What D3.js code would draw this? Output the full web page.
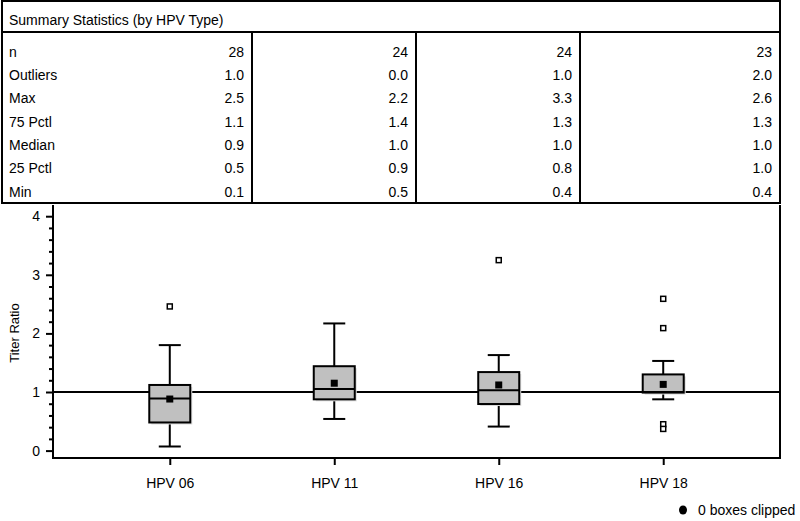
<!DOCTYPE html>
<html><head><meta charset="utf-8">
<script src="https://cdn.jsdelivr.net/npm/d3@7/dist/d3.min.js"></script>
<style>
body{margin:0;background:#fff;}
svg{display:block;font-family:"Liberation Sans",Arial,Helvetica,sans-serif;}
</style></head>
<body>
<svg id="chart" width="800" height="521"></svg>
<script>
// ---- Data ----
const categories = ["HPV 06", "HPV 11", "HPV 16", "HPV 18"];
const statLabels = ["n", "Outliers", "Max", "75 Pctl", "Median", "25 Pctl", "Min"];
const statN        = [28, 24, 24, 23];
const statOutliers = [1.0, 0.0, 1.0, 2.0];
const statMax      = [2.5, 2.2, 3.3, 2.6];
const statP75      = [1.1, 1.4, 1.3, 1.3];
const statMedian   = [0.9, 1.0, 1.0, 1.0];
const statP25      = [0.5, 0.9, 0.8, 1.0];
const statMin      = [0.1, 0.5, 0.4, 0.4];

// box plot geometry values
const boxQ1     = [0.48, 0.875, 0.795, 0.99];
const boxMedian = [0.89, 1.05, 1.03, 1.0];
const boxQ3     = [1.12, 1.44, 1.34, 1.30];
const whiskLow  = [0.07, 0.54, 0.41, 0.875];
const whiskHigh = [1.80, 2.17, 1.63, 1.53];
const boxMean   = [0.88, 1.15, 1.12, 1.13];
const outlierVals = [[2.46], [], [3.25], [2.59, 2.09, 0.45, 0.37]];
const refValue = 1;
const yMajorTicks = [0, 1, 2, 3, 4];
const yMinorTicks = d3.range(0, 4.001, 0.2).filter(v => Math.abs(v - Math.round(v)) > 1e-6);
const yLabel = "Titer Ratio";
const tableTitle = "Summary Statistics (by HPV Type)";
const legendText = "0 boxes clipped";

// ---- Layout ----
const svg = d3.select("#chart");
const tbl = {left: 2, right: 780, top: 1, headerBottom: 32, bottom: 203, cols: [2, 252, 416, 580, 780]};
const plot = {left: 53, right: 780, top: 205, bottom: 458};

// ---- Table ----
const statRows = [statN, statOutliers, statMax, statP75, statMedian, statP25, statMin];
const tg = svg.append("g").attr("font-size", 14).attr("fill", "#000");
tg.append("rect").attr("x", tbl.left).attr("y", tbl.top)
  .attr("width", tbl.right - tbl.left).attr("height", tbl.bottom - tbl.top)
  .attr("fill", "none").attr("stroke", "#000").attr("stroke-width", 2);
tg.append("line").attr("x1", tbl.left).attr("x2", tbl.right)
  .attr("y1", tbl.headerBottom).attr("y2", tbl.headerBottom)
  .attr("stroke", "#000").attr("stroke-width", 2);
tbl.cols.slice(1, 4).forEach(x => {
  tg.append("line").attr("x1", x).attr("x2", x)
    .attr("y1", tbl.headerBottom).attr("y2", tbl.bottom)
    .attr("stroke", "#000").attr("stroke-width", 2);
});
tg.append("text").attr("x", 9).attr("y", 25).text(tableTitle);
const rowY = d3.scaleLinear().domain([0, 6]).range([56.5, 196.5]);
statLabels.forEach((lab, i) => {
  tg.append("text").attr("x", 9).attr("y", rowY(i)).text(lab);
  statRows[i].forEach((v, j) => {
    tg.append("text").attr("x", tbl.cols[j + 1] - 8).attr("y", rowY(i))
      .attr("text-anchor", "end")
      .text(i === 0 ? String(v) : v.toFixed(1));
  });
});

// ---- Scales ----
const y = d3.scaleLinear().domain([0, 4]).range([450.6, 216.2]);
const x = d3.scalePoint().domain(categories).range([plot.left, plot.right]).padding(0.71);

// ---- Axes ----
const yAxisMinor = d3.axisLeft(y).tickValues(yMinorTicks).tickSize(4).tickFormat("");
const gyMin = svg.append("g").attr("transform", `translate(${plot.left},0)`).call(yAxisMinor);
gyMin.select(".domain").remove();
gyMin.selectAll("line").attr("stroke-width", 2);
const yAxis = d3.axisLeft(y).tickValues(yMajorTicks).tickSize(7).tickPadding(6).tickFormat(d3.format("d"));
const gy = svg.append("g").attr("transform", `translate(${plot.left},0)`).call(yAxis);
gy.select(".domain").remove();
gy.selectAll("line").attr("stroke-width", 2);
gy.selectAll("text").attr("font-size", 14).attr("font-family", "Liberation Sans, Arial, sans-serif").attr("fill", "#000");

const xAxis = d3.axisBottom(x).tickSize(7).tickPadding(13);
const gx = svg.append("g").attr("transform", `translate(0,${plot.bottom})`).call(xAxis);
gx.select(".domain").remove();
gx.selectAll("line").attr("stroke-width", 2);
gx.selectAll("text").attr("font-size", 14).attr("font-family", "Liberation Sans, Arial, sans-serif").attr("fill", "#000");

// frame: left axis, bottom axis, right border
svg.append("path")
  .attr("d", `M${plot.left},${plot.top}V${plot.bottom}H${plot.right}V${plot.top}`)
  .attr("fill", "none").attr("stroke", "#000").attr("stroke-width", 2);

// y label
svg.append("text").attr("transform", `translate(19,333) rotate(-90)`)
  .attr("text-anchor", "middle").attr("font-size", 13).text(yLabel);

// reference line
svg.append("line").attr("x1", plot.left).attr("x2", plot.right)
  .attr("y1", y(refValue)).attr("y2", y(refValue))
  .attr("stroke", "#000").attr("stroke-width", 2);

// ---- Boxes ----
const boxW = 41, capW = 22;
const bg = svg.append("g");
categories.forEach((c, i) => {
  const cx = x(c);
  const g = bg.append("g");
  // whiskers
  g.append("line").attr("x1", cx).attr("x2", cx).attr("y1", y(whiskHigh[i])).attr("y2", y(boxQ3[i]))
    .attr("stroke", "#000").attr("stroke-width", 2);
  g.append("line").attr("x1", cx).attr("x2", cx).attr("y1", y(whiskLow[i])).attr("y2", y(boxQ1[i]))
    .attr("stroke", "#000").attr("stroke-width", 2);
  g.append("line").attr("x1", cx - capW / 2).attr("x2", cx + capW / 2).attr("y1", y(whiskHigh[i])).attr("y2", y(whiskHigh[i]))
    .attr("stroke", "#000").attr("stroke-width", 2);
  g.append("line").attr("x1", cx - capW / 2).attr("x2", cx + capW / 2).attr("y1", y(whiskLow[i])).attr("y2", y(whiskLow[i]))
    .attr("stroke", "#000").attr("stroke-width", 2);
  // shadow
  g.append("rect").attr("x", cx - boxW / 2 + 2).attr("y", y(boxQ3[i]) + 2)
    .attr("width", boxW).attr("height", y(boxQ1[i]) - y(boxQ3[i]))
    .attr("fill", "#dcdcdc");
  // box
  g.append("rect").attr("x", cx - boxW / 2).attr("y", y(boxQ3[i]))
    .attr("width", boxW).attr("height", y(boxQ1[i]) - y(boxQ3[i]))
    .attr("fill", "#c0c0c0").attr("stroke", "#000").attr("stroke-width", 2);
  // median
  g.append("line").attr("x1", cx - boxW / 2).attr("x2", cx + boxW / 2)
    .attr("y1", y(boxMedian[i])).attr("y2", y(boxMedian[i]))
    .attr("stroke", "#000").attr("stroke-width", 2);
  // mean
  g.append("rect").attr("x", cx - 3.5).attr("y", y(boxMean[i]) - 3.5)
    .attr("width", 7).attr("height", 7).attr("fill", "#000");
  // outliers
  outlierVals[i].forEach(v => {
    g.append("rect").attr("x", cx - 2.5).attr("y", y(v) - 2.5)
      .attr("width", 5).attr("height", 5)
      .attr("fill", "#fff").attr("stroke", "#000").attr("stroke-width", 1.5);
  });
});

// ---- Legend ----
svg.append("ellipse").attr("cx", 683).attr("cy", 510).attr("rx", 4).attr("ry", 4.5).attr("fill", "#000");
svg.append("text").attr("x", 698).attr("y", 515).attr("font-size", 14).text(legendText);
</script>
</body></html>
